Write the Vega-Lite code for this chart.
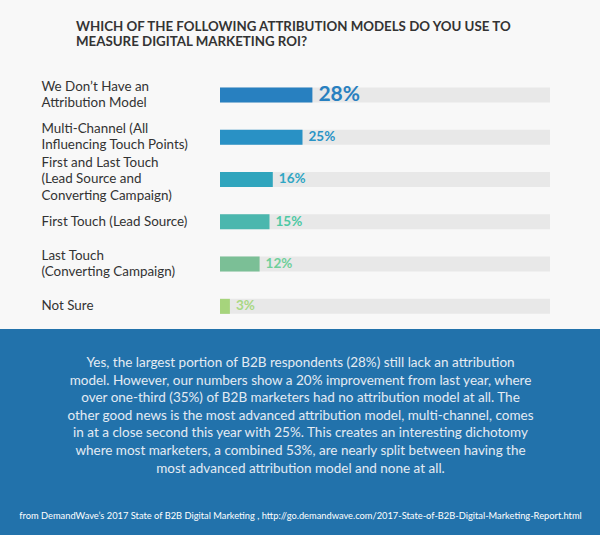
{
  "$schema": "https://vega.github.io/schema/vega-lite/v6.json",
  "width": 600,
  "height": 329,
  "autosize": {"type": "none"},
  "padding": {"left": 0, "top": 0, "right": 0, "bottom": 206},
  "background": "#2272ab",
  "view": {"fill": "#f8f8f8", "stroke": null},
  "title": {
    "text": ["WHICH OF THE FOLLOWING ATTRIBUTION MODELS DO YOU USE TO", "MEASURE DIGITAL MARKETING ROI?"],
    "anchor": "start",
    "frame": "group",
    "orient": "top",
    "dx": 76,
    "offset": -62,
    "baseline": "bottom",
    "font": "Lato",
    "fontSize": 13.3,
    "fontWeight": "bold",
    "color": "#333333",
    "lineHeight": 15
  },
  "data": {
    "values": [
      {"model": "We Don’t Have an|Attribution Model", "share": 0.28},
      {"model": "Multi-Channel (All|Influencing Touch Points)", "share": 0.25},
      {"model": "First and Last Touch|(Lead Source and|Converting Campaign)", "share": 0.16},
      {"model": "First Touch (Lead Source)", "share": 0.15},
      {"model": "Last Touch|(Converting Campaign)", "share": 0.12},
      {"model": "Not Sure", "share": 0.03}
    ]
  },
  "encoding": {
    "y": {
      "field": "model",
      "type": "nominal",
      "sort": null,
      "scale": {"paddingInner": 0, "paddingOuter": 0.89, "align": 0.98},
      "axis": {
        "orient": "left",
        "domain": false,
        "ticks": false,
        "tickSize": 0,
        "grid": false,
        "labelAlign": "left",
        "labelBaseline": "middle",
        "labelPadding": -41,
        "labelOffset": {
          "condition": [
            {"test": "length(split(datum.label, '|')) == 3", "value": -16.5},
            {"test": "length(split(datum.label, '|')) == 2", "value": -8.25}
          ],
          "value": 0
        },
        "labelExpr": "split(datum.label, '|')",
        "labelLineHeight": 16.5,
        "labelFont": "Lato",
        "labelFontSize": 13.4,
        "labelColor": "#333333",
        "labelLimit": 300,
        "title": "from DemandWave’s 2017 State of B2B Digital Marketing , http://go.demandwave.com/2017-State-of-B2B-Digital-Marketing-Report.html",
        "titleAngle": 0,
        "titleX": 300,
        "titleY": 518,
        "titleAlign": "center",
        "titleBaseline": "alphabetic",
        "titleFont": "Lato",
        "titleFontSize": 9.3,
        "titleFontWeight": "normal",
        "titleColor": "#ffffff"
      }
    }
  },
  "layer": [
    {
      "mark": {"type": "bar", "color": "#e8e8e8", "height": 15},
      "encoding": {
        "x": {
          "datum": 0,
          "type": "quantitative",
          "scale": {"domain": [0, 1], "range": [220, 550]},
          "axis": {
            "orient": "bottom",
            "domain": false,
            "ticks": false,
            "labels": false,
            "grid": false,
            "title": [
              "Yes, the largest portion of B2B respondents (28%) still lack an attribution",
              "model. However, our numbers show a 20% improvement from last year, where",
              "over one-third (35%) of B2B marketers had no attribution model at all. The",
              "other good news is the most advanced attribution model, multi-channel, comes",
              "in at a close second this year with 25%. This creates an interesting dichotomy",
              "where most marketers, a combined 53%, are nearly split between having the",
              "most advanced attribution model and none at all."
            ],
            "titleX": 300,
            "titleY": 37.5,
            "titleAlign": "center",
            "titleAnchor": "middle",
            "titleBaseline": "alphabetic",
            "titleFont": "Lato",
            "titleFontSize": 13.5,
            "titleFontWeight": "normal",
            "titleLineHeight": 17.6,
            "titleColor": "#e4ebf3"
          }
        },
        "x2": {"datum": 1}
      }
    },
    {
      "mark": {"type": "bar", "height": 15},
      "encoding": {
        "x": {"field": "share", "type": "quantitative"},
        "color": {
          "field": "model",
          "type": "nominal",
          "sort": null,
          "scale": {"range": ["#2880c0", "#2991c5", "#30a5bd", "#4bb7ae", "#7bbf96", "#a6d47c"]},
          "legend": null
        }
      }
    },
    {
      "mark": {"type": "text", "align": "left", "baseline": "middle", "dx": 6, "font": "Lato", "fontWeight": "bold"},
      "encoding": {
        "x": {"field": "share", "type": "quantitative"},
        "text": {"field": "share", "type": "quantitative", "format": ".0%"},
        "size": {"condition": {"test": "datum.share == 0.28", "value": 21}, "value": 13.5},
        "color": {
          "field": "model",
          "type": "nominal",
          "sort": null,
          "scale": {"range": ["#2880c0", "#2a93c6", "#2fa6c4", "#4ec8a4", "#6fcf9a", "#a8d884"]},
          "legend": null
        }
      }
    }
  ],
  "resolve": {"scale": {"color": "independent"}}
}
